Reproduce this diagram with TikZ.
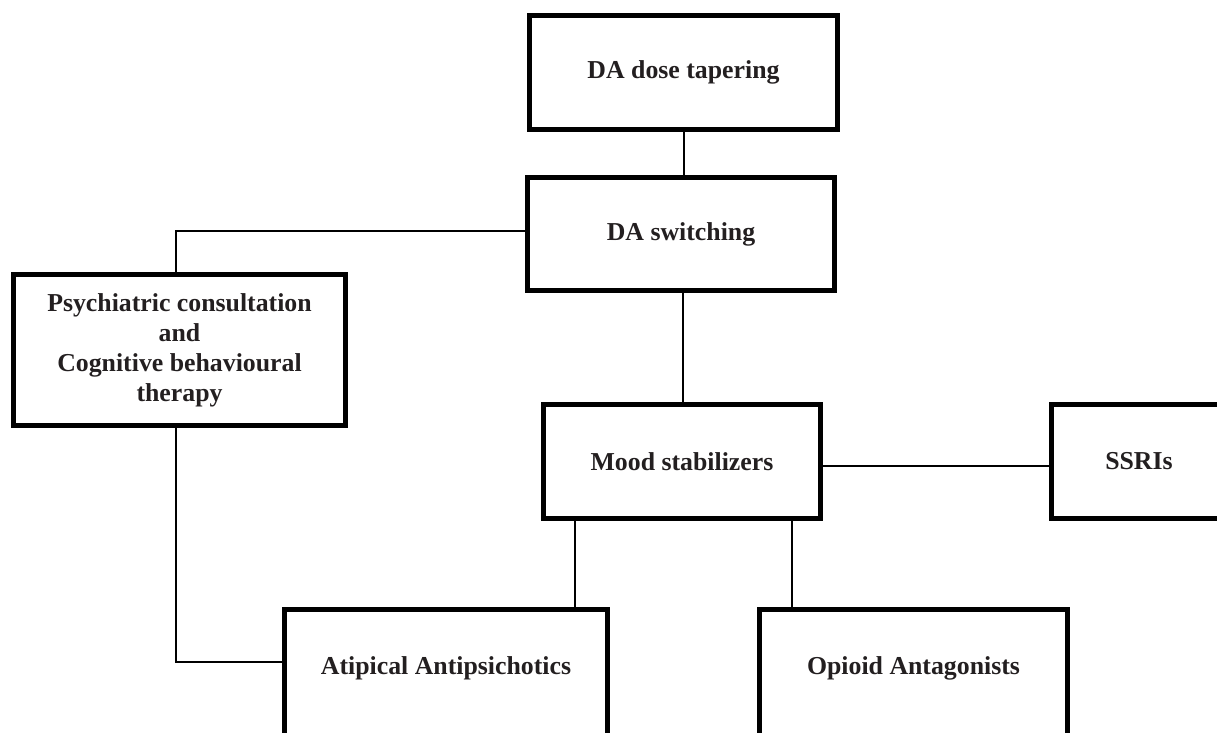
\documentclass[tikz,border=0pt]{standalone}
\usepackage{fontspec}
\setmainfont{Liberation Serif}
\definecolor{txt}{HTML}{231F20}
\begin{document}
\begin{tikzpicture}[x=1bp,y=-1bp,
  box/.style={draw=black, line width=5bp, inner sep=0pt,
    font=\fontsize{25.8bp}{30bp}\selectfont\bfseries, text=txt, align=center},
  link/.style={draw=black, line width=2bp}]
\useasboundingbox (0,0) rectangle (1217,733);
\clip (0,0) rectangle (1217,733);
\node[box, minimum width=308bp, minimum height=114bp] (tap) at (683.5,72.5) {DA dose tapering};
\node[box, minimum width=307bp, minimum height=113bp] (sw) at (681,234) {DA switching};
\node[box, minimum width=332bp, minimum height=151bp] (psy) at (179.5,350)
  {Psychiatric consultation\\and\\Cognitive behavioural\\therapy};
\node[box, minimum width=277bp, minimum height=114bp] (mood) at (682,461.5) {Mood stabilizers};
\node[box, minimum width=175bp, minimum height=114bp] (ssri) at (1139,461.5) {SSRIs};
\node[box, minimum width=323bp, text height=64.5bp, text depth=100bp, anchor=base] (aty) at (446,674) {Atipical Antipsichotics};
\node[box, minimum width=308bp, text height=64.5bp, text depth=100bp, anchor=base] (opi) at (913.5,674) {Opioid Antagonists};
\coordinate (lev) at (0,662);
\coordinate (s1) at ([xshift=2bp]sw.south);
\coordinate (m1) at ([xshift=34bp]mood.south west);
\coordinate (m2) at ([xshift=-31bp]mood.south east);
\coordinate (me) at ([yshift=-4.5bp]mood.east);
\draw[link] (tap.south) -- (tap.south |- sw.north);
\draw[link] ([yshift=3bp]sw.west) -| ([xshift=-3.5bp]psy.north);
\draw[link] ([xshift=-3.5bp]psy.south) |- (aty.west |- lev);
\draw[link] (s1) -- (s1 |- mood.north);
\draw[link] (me) -- (me -| ssri.west);
\draw[link] (m1) -- (m1 |- aty.north);
\draw[link] (m2) -- (m2 |- opi.north);
\end{tikzpicture}
\end{document}
